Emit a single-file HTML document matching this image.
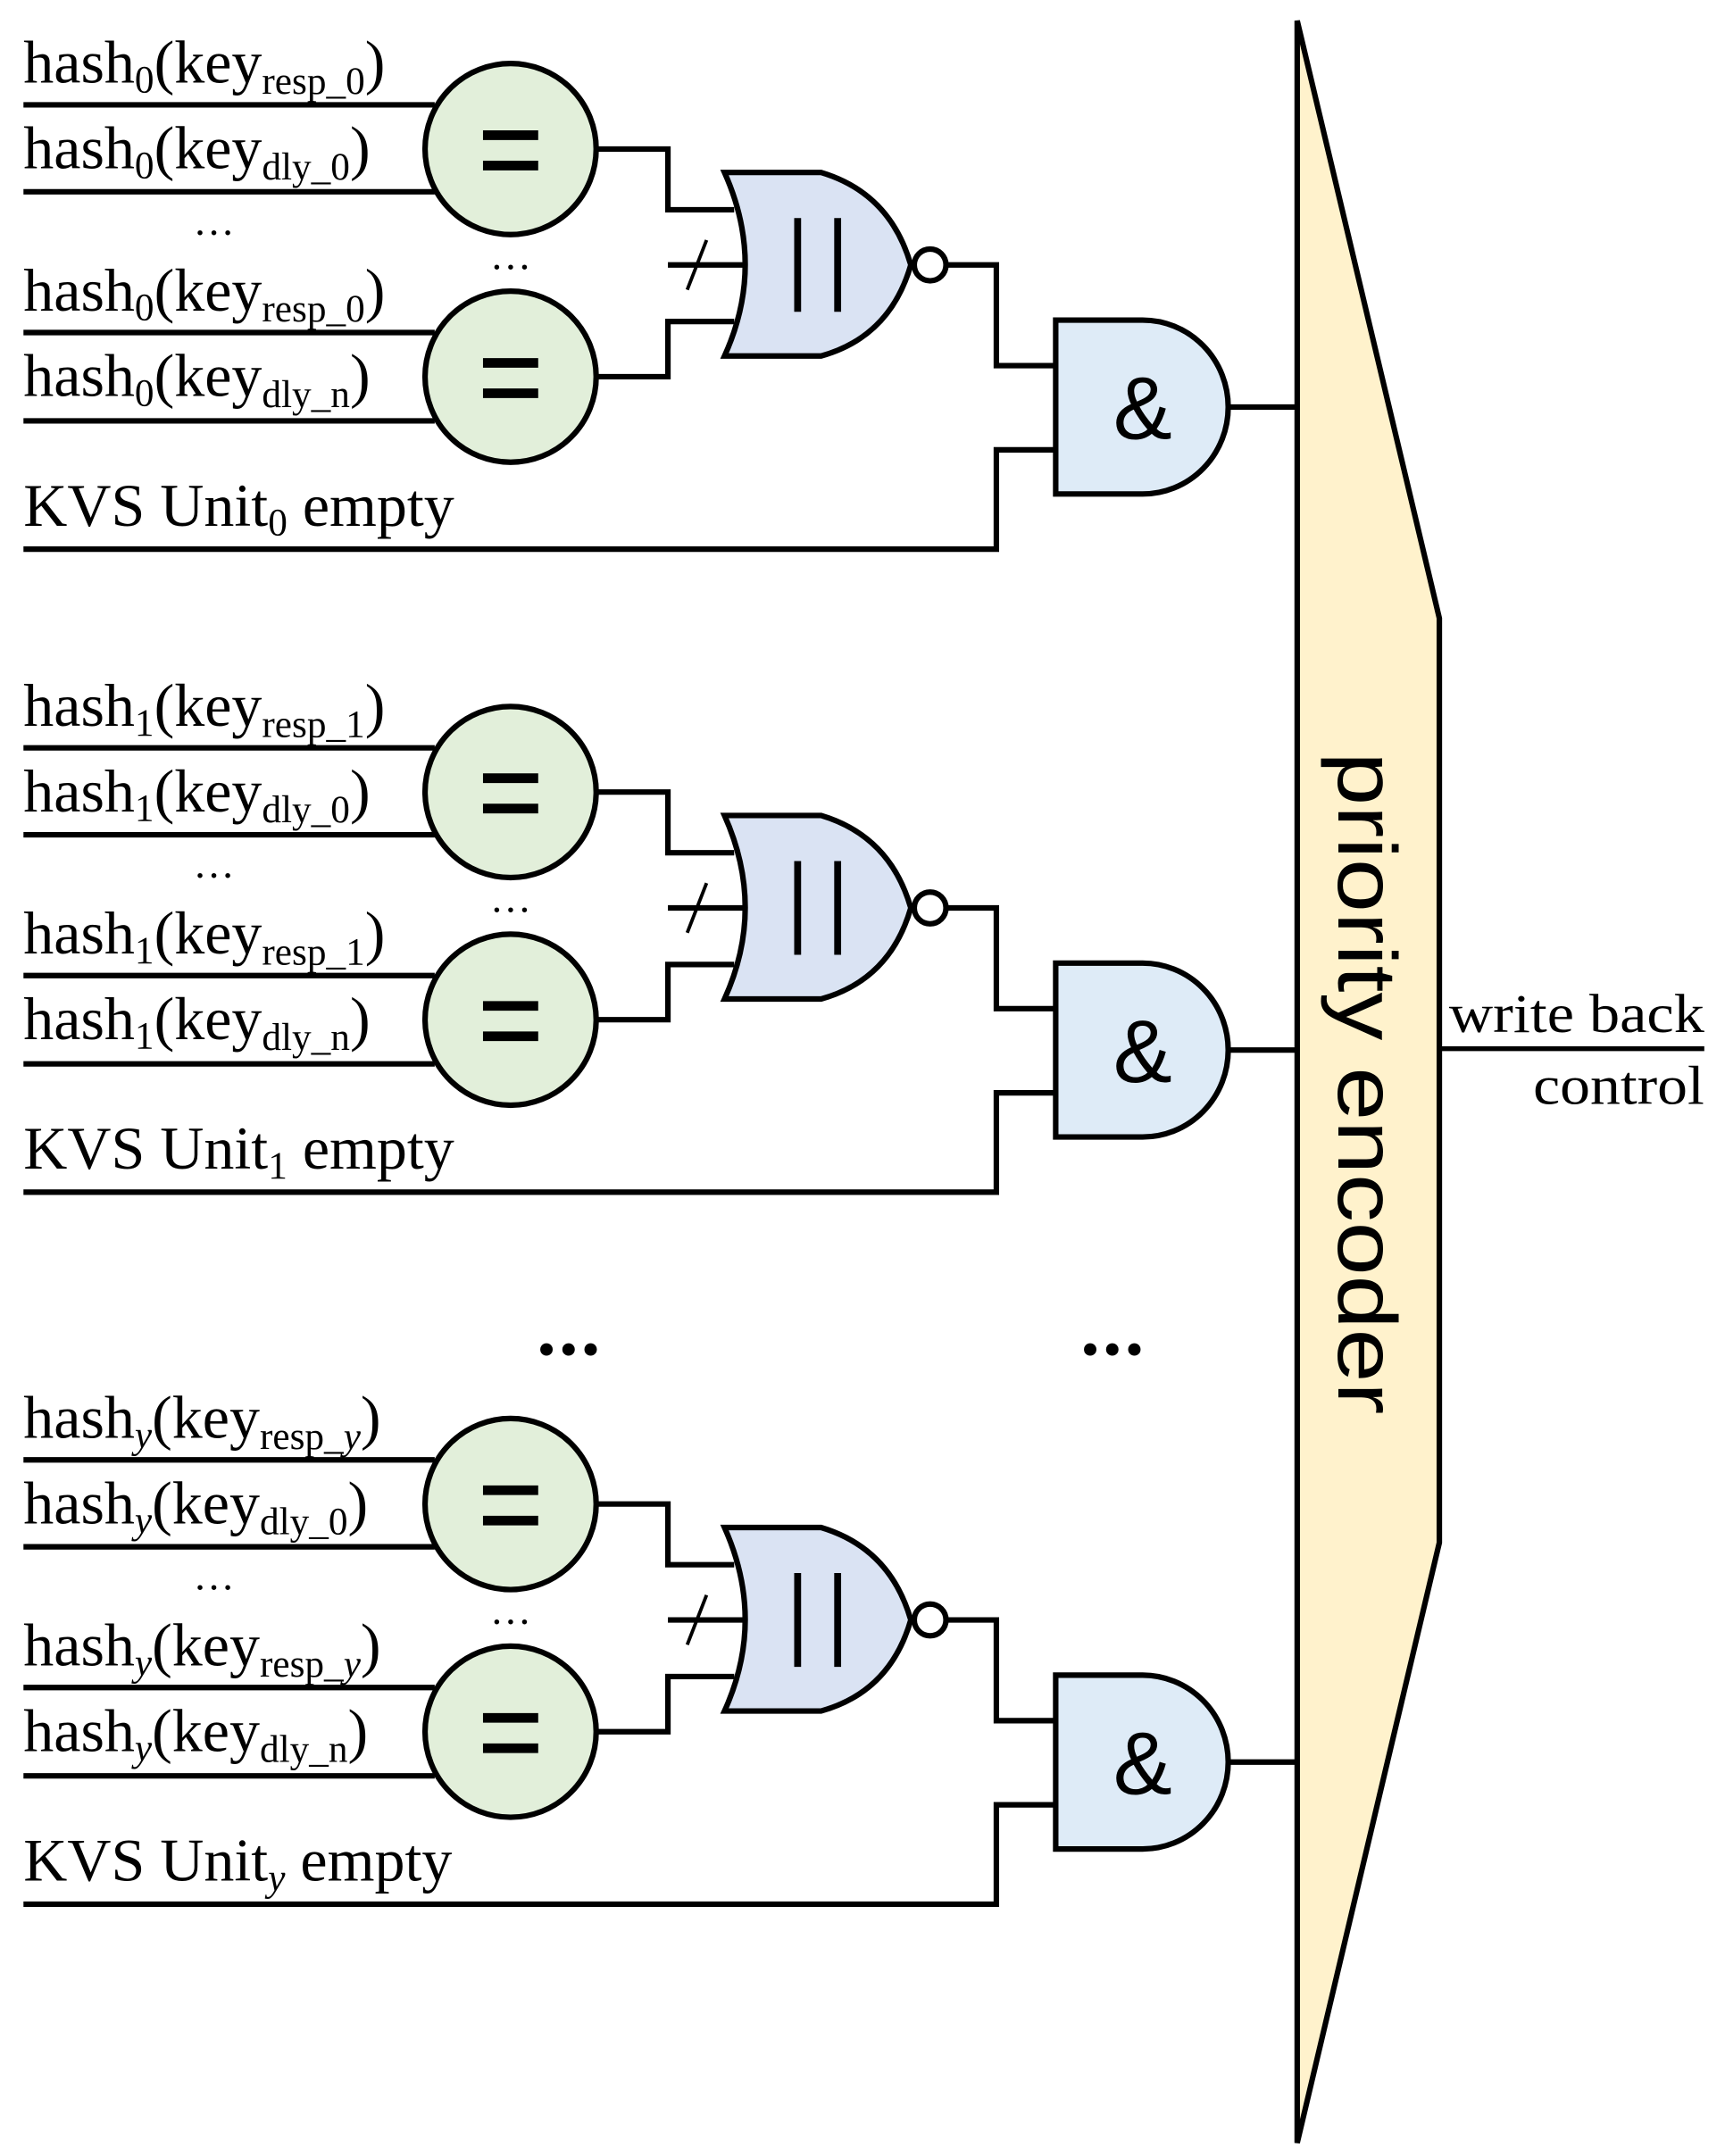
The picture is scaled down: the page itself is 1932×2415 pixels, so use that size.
<!DOCTYPE html>
<html><head><meta charset="utf-8"><style>html,body{margin:0;padding:0;background:#fff}svg{display:block}
.s{font-family:"Liberation Serif",serif}
.a{font-family:"Liberation Sans",sans-serif}</style></head>
<body>
<svg width="1932" height="2415" viewBox="0 0 1250 1562.5" preserveAspectRatio="none" xmlns="http://www.w3.org/2000/svg">
<defs>
<g id="blk" stroke="#000" stroke-width="4" fill="none">
  <line x1="17" y1="76" x2="315" y2="76"/>
  <line x1="17" y1="139" x2="315" y2="139"/>
  <line x1="17" y1="241" x2="315" y2="241"/>
  <line x1="17" y1="305" x2="315" y2="305"/>
  <ellipse cx="370" cy="108" rx="62" ry="62" fill="#e2efda"/>
  <ellipse cx="370" cy="273" rx="62" ry="62" fill="#e2efda"/>
  <g stroke-width="7"><line x1="350" y1="98" x2="390" y2="98"/><line x1="350" y1="120" x2="390" y2="120"/>
  <line x1="350" y1="263" x2="390" y2="263"/><line x1="350" y1="285" x2="390" y2="285"/></g>
  <polyline points="432,108 484,108 484,152 532,152"/>
  <polyline points="432,273 484,273 484,233 532,233"/>
  <line x1="484" y1="192" x2="540" y2="192"/>
  <line x1="498" y1="210" x2="512" y2="174" stroke-width="2.5"/>
  <path d="M525,125 L595,125 Q645,140 660,192 Q645,244 595,258 L525,258 Q555,192 525,125 Z" fill="#dae3f3"/>
  <line x1="578" y1="158" x2="578" y2="226" stroke-width="5"/>
  <line x1="607" y1="158" x2="607" y2="226" stroke-width="5"/>
  <circle cx="674" cy="192" r="11.5" fill="#fff"/>
  <polyline points="686,192 722,192 722,265 765,265"/>
  <polyline points="17,398 722,398 722,326 765,326"/>
  <path d="M765,232 L828,232 A62,63 0 0 1 828,358 L765,358 Z" fill="#deebf7"/>
  <line x1="890" y1="295" x2="940" y2="295"/>
</g>
</defs>
<polygon points="940,15 1043,448 1043,1118 940,1553" fill="#fff2cc" stroke="#000" stroke-width="4"/>
<line x1="1043" y1="760" x2="1235" y2="760" stroke="#000" stroke-width="3.5"/>
<use href="#blk"/>
<use href="#blk" transform="translate(0,466)"/>
<use href="#blk" transform="translate(0,982)"/>
<g class="a" font-size="64" text-anchor="middle" fill="#000">
<text x="828" y="318">&amp;</text><text x="828" y="784">&amp;</text><text x="828" y="1300">&amp;</text>
</g>
<text class="a" transform="translate(970,785) rotate(90)" font-size="60" text-anchor="middle" textLength="480" lengthAdjust="spacingAndGlyphs">priority encoder</text>
<g class="s" font-size="40" fill="#000">
<text x="1235" y="748" text-anchor="end" textLength="185" lengthAdjust="spacingAndGlyphs">write back</text>
<text x="1235" y="800" text-anchor="end" textLength="124" lengthAdjust="spacingAndGlyphs">control</text>
<g font-size="30"><text x="140" y="170">…</text><text x="355" y="195">…</text>
<text x="140" y="636">…</text><text x="355" y="661">…</text>
<text x="140" y="1152">…</text><text x="355" y="1177">…</text></g>
<g fill="#000"><circle cx="396" cy="978" r="4.5"/><circle cx="412" cy="978" r="4.5"/><circle cx="428" cy="978" r="4.5"/>
<circle cx="790" cy="978" r="4.5"/><circle cx="806" cy="978" r="4.5"/><circle cx="822" cy="978" r="4.5"/></g>
</g>
<g class="s" font-size="44" fill="#000">
<text x="17" y="60">hash<tspan font-size="28" dy="7">0</tspan><tspan dy="-7">(key</tspan><tspan font-size="28" dy="8">resp_0</tspan><tspan dy="-8">)</tspan></text>
<text x="17" y="122">hash<tspan font-size="28" dy="7">0</tspan><tspan dy="-7">(key</tspan><tspan font-size="28" dy="8">dly_0</tspan><tspan dy="-8">)</tspan></text>
<text x="17" y="225">hash<tspan font-size="28" dy="7">0</tspan><tspan dy="-7">(key</tspan><tspan font-size="28" dy="8">resp_0</tspan><tspan dy="-8">)</tspan></text>
<text x="17" y="287">hash<tspan font-size="28" dy="7">0</tspan><tspan dy="-7">(key</tspan><tspan font-size="28" dy="8">dly_n</tspan><tspan dy="-8">)</tspan></text>
<text x="17" y="381">KVS Unit<tspan font-size="28" dy="7">0</tspan><tspan dy="-7"> empty</tspan></text>

<text x="17" y="526">hash<tspan font-size="28" dy="7">1</tspan><tspan dy="-7">(key</tspan><tspan font-size="28" dy="8">resp_1</tspan><tspan dy="-8">)</tspan></text>
<text x="17" y="588">hash<tspan font-size="28" dy="7">1</tspan><tspan dy="-7">(key</tspan><tspan font-size="28" dy="8">dly_0</tspan><tspan dy="-8">)</tspan></text>
<text x="17" y="691">hash<tspan font-size="28" dy="7">1</tspan><tspan dy="-7">(key</tspan><tspan font-size="28" dy="8">resp_1</tspan><tspan dy="-8">)</tspan></text>
<text x="17" y="753">hash<tspan font-size="28" dy="7">1</tspan><tspan dy="-7">(key</tspan><tspan font-size="28" dy="8">dly_n</tspan><tspan dy="-8">)</tspan></text>
<text x="17" y="847">KVS Unit<tspan font-size="28" dy="7">1</tspan><tspan dy="-7"> empty</tspan></text>

<text x="17" y="1042">hash<tspan font-size="28" dy="7" font-style="italic">y</tspan><tspan dy="-7">(key</tspan><tspan font-size="28" dy="8">resp_<tspan font-style="italic">y</tspan></tspan><tspan dy="-8">)</tspan></text>
<text x="17" y="1104">hash<tspan font-size="28" dy="7" font-style="italic">y</tspan><tspan dy="-7">(key</tspan><tspan font-size="28" dy="8">dly_0</tspan><tspan dy="-8">)</tspan></text>
<text x="17" y="1207">hash<tspan font-size="28" dy="7" font-style="italic">y</tspan><tspan dy="-7">(key</tspan><tspan font-size="28" dy="8">resp_<tspan font-style="italic">y</tspan></tspan><tspan dy="-8">)</tspan></text>
<text x="17" y="1269">hash<tspan font-size="28" dy="7" font-style="italic">y</tspan><tspan dy="-7">(key</tspan><tspan font-size="28" dy="8">dly_n</tspan><tspan dy="-8">)</tspan></text>
<text x="17" y="1363">KVS Unit<tspan font-size="28" dy="7" font-style="italic">y</tspan><tspan dy="-7"> empty</tspan></text>
</g>
</svg>
</body></html>
